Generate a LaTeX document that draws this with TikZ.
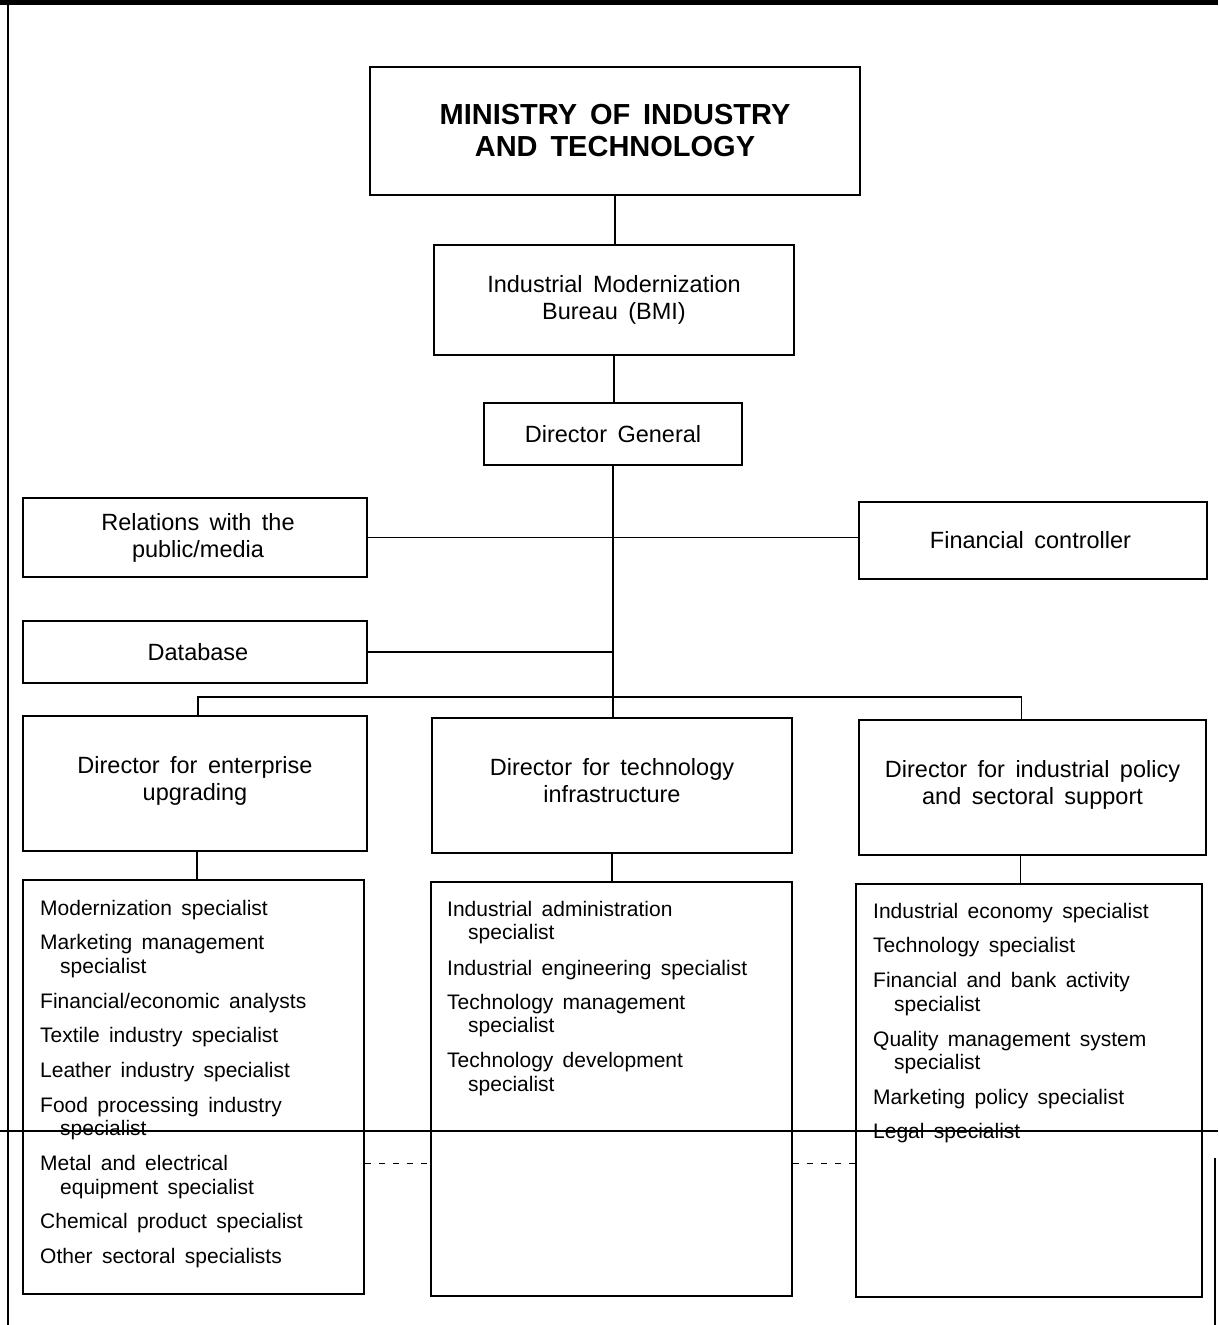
\documentclass[tikz,border=0pt]{standalone}
\usepackage{fontspec}
\setmainfont{Liberation Sans}[WordSpace=1.6]
\begin{document}
\begin{tikzpicture}[x=1pt,y=-1pt,
  frame/.style={draw, line width=1.6pt, inner sep=0pt, align=center},
  head/.style={font=\fontsize{23.5}{27}\selectfont},
  title/.style={font=\fontsize{29}{32}\selectfont\bfseries},
  item/.style={anchor=base west, inner sep=0pt, font=\fontsize{21}{24}\selectfont},
  link/.style={line width=1.3pt}]
\useasboundingbox (0,0) rectangle (1218,1325);

% page frame lines
\fill (0,0) rectangle (1218,5);
\draw[line width=2.4pt] (8,0) -- (8,1325);
\draw[line width=2pt] (1215,1158) -- (1215,1325);

% top of the hierarchy
\node[frame, title, minimum width=490pt, minimum height=128pt] (min) at (615,131)
  {MINISTRY OF INDUSTRY\\AND TECHNOLOGY};
\node[frame, head, minimum width=360pt, minimum height=110pt] (bmi) at (614,300)
  {Industrial Modernization\\Bureau (BMI)};
\node[frame, head, minimum width=258pt, minimum height=62pt] (dg) at (613,434)
  {Director General};

% staff units
\node[frame, head, minimum width=344pt, minimum height=79pt] (rel) at (195,537.5)
  {\hspace*{6pt}Relations with the\\\hspace*{6pt}public/media};
\node[frame, head, minimum width=348pt, minimum height=77pt] (fin) at (1033,540.5)
  {Financial controller\hspace*{5pt}};
\node[frame, head, minimum width=344pt, minimum height=62pt] (db) at (195,652)
  {\hspace*{6pt}Database};

% directors
\node[frame, head, minimum width=344pt, minimum height=135pt] (de) at (195,783.5)
  {Director for enterprise\\upgrading\\[-17pt]};
\node[frame, head, minimum width=360pt, minimum height=135pt] (dt) at (612,785.5)
  {Director for technology\\infrastructure\\[-17pt]};
\node[frame, head, minimum width=347pt, minimum height=135pt] (dp) at (1032.5,787.5)
  {Director for industrial policy\\and sectoral support\\[-17pt]};

% specialist boxes
\node[frame, minimum width=341pt, minimum height=414pt] (le) at (193.5,1087) {};
\node[frame, minimum width=361pt, minimum height=414pt] (lt) at (611.5,1089) {};
\node[frame, minimum width=346pt, minimum height=413pt] (lp) at (1029,1090.5) {};

% enterprise upgrading specialists
\node[item] (e1) at (40,915) {Modernization specialist};
\node[item] (e2) at (40,949) {Marketing management};
\node[item] (e2b) at (60,973) {specialist};
\node[item] (e3) at (40,1008) {Financial/economic analysts};
\node[item] (e4) at (40,1042) {Textile industry specialist};
\node[item] (e5) at (40,1077) {Leather industry specialist};
\node[item] (e6) at (40,1112) {Food processing industry};
\node[item] (e6b) at (60,1135) {specialist};
\node[item] (e7) at (40,1170) {Metal and electrical};
\node[item] (e7b) at (60,1194) {equipment specialist};
\node[item] (e8) at (40,1228) {Chemical product specialist};
\node[item] (e9) at (40,1263) {Other sectoral specialists};

% technology infrastructure specialists
\node[item] (t1) at (447,916) {Industrial administration};
\node[item] (t1b) at (468,939) {specialist};
\node[item] (t2) at (447,975) {Industrial engineering specialist};
\node[item] (t3) at (447,1009) {Technology management};
\node[item] (t3b) at (468,1032) {specialist};
\node[item] (t4) at (447,1067) {Technology development};
\node[item] (t4b) at (468,1091) {specialist};

% industrial policy specialists
\node[item] (p1) at (873,918) {Industrial economy specialist};
\node[item] (p2) at (873,952) {Technology specialist};
\node[item] (p3) at (873,987) {Financial and bank activity};
\node[item] (p3b) at (894,1011) {specialist};
\node[item] (p4) at (873,1046) {Quality management system};
\node[item] (p4b) at (894,1069) {specialist};
\node[item] (p5) at (873,1104) {Marketing policy specialist};
\node[item] (p6) at (873,1138) {Legal specialist};

% connectors
\draw[link] (min.south) -- (min.south |- bmi.north);
\draw[link] (bmi.south) -- (bmi.south |- dg.north);
\draw[link] (dg.south) -- (dg.south |- dt.north);
\draw[link] (rel.east) -- (rel.east -| fin.west);
\draw[link] (db.east) -- (db.east -| dg.south);
\coordinate (bus) at (613,697);
\draw[link] ([xshift=3pt]de.north) |- (bus) -| ([xshift=-11pt]dp.north);
\draw[link] ([xshift=2pt]de.south) -- ([xshift=2pt]de.south |- le.north);
\draw[link] (dt.south) -- (dt.south |- lt.north);
\draw[link] ([xshift=-12pt]dp.south) -- ([xshift=-12pt]dp.south |- lp.north);

% crossing rule and broken rule near the bottom
\draw[line width=1.1pt] (0,1131) -- (1218,1131);
\draw[line width=0.8pt, dash pattern=on 6pt off 8pt] (le.east |- 0,1163) -- (lt.west |- 0,1163);
\draw[line width=0.8pt, dash pattern=on 6pt off 8pt] (lt.east |- 0,1163) -- (lp.west |- 0,1163);
\end{tikzpicture}
\end{document}
